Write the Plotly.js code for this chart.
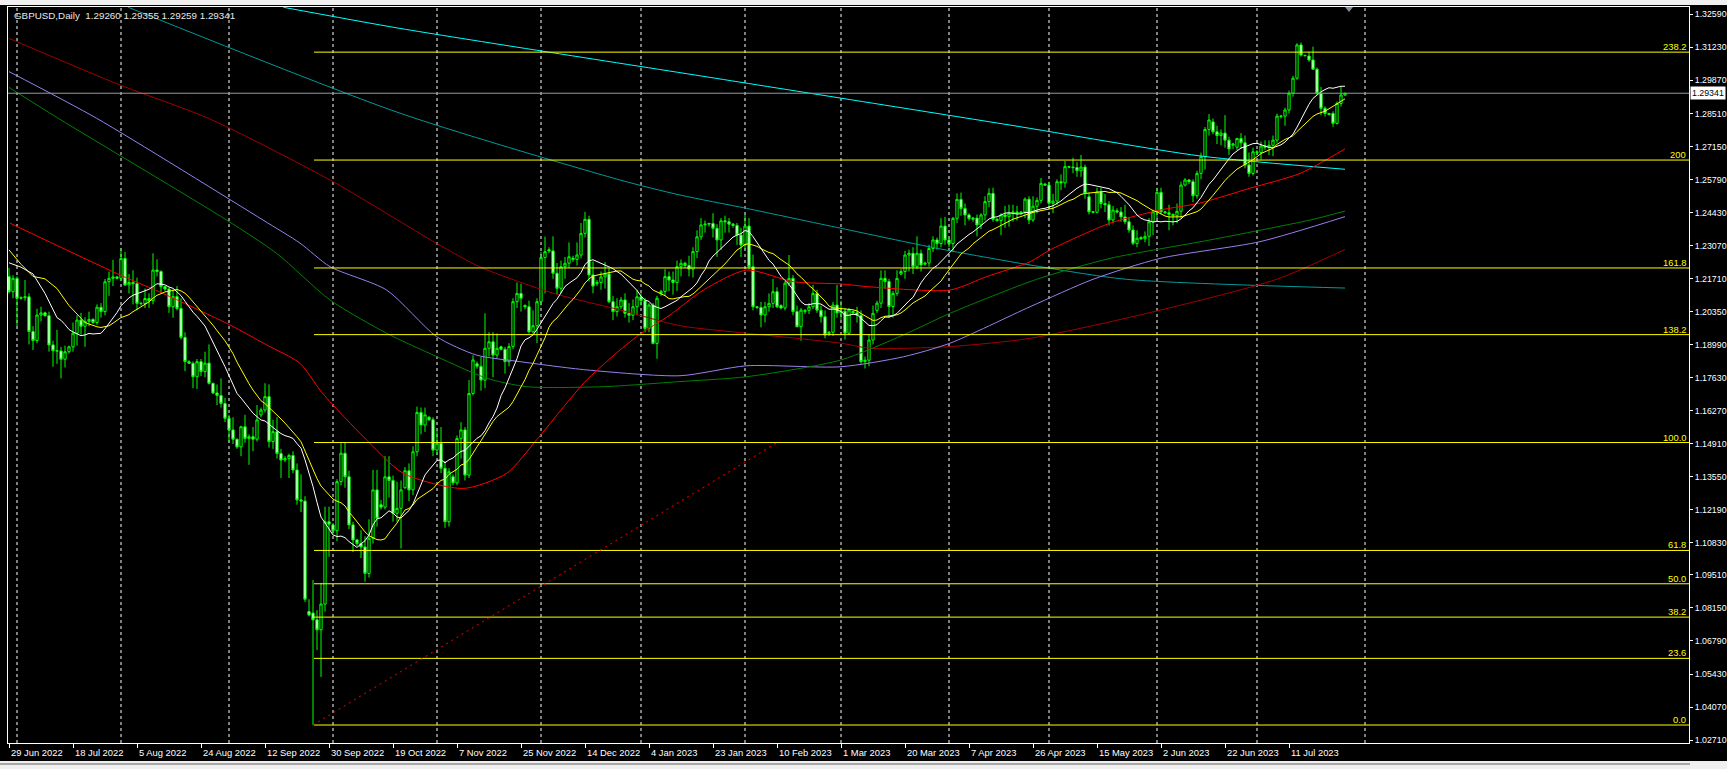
<!DOCTYPE html>
<html><head><meta charset="utf-8">
<script src="https://cdn.plot.ly/plotly-3.0.1.min.js"></script>
<style>html,body{margin:0;padding:0;background:#000;overflow:hidden}#chart{width:1727px;height:769px}</style>
</head><body><div id="chart"></div>
<script>
// ---------------- DATA (GBPUSD Daily, bar index 0 = 29 Jun 2022) ----------------
const openP = [
1.2180,1.2117,1.2172,1.2090,1.2092,1.2096,1.1953,1.1916,1.2021,1.2030,
1.2018,1.1898,1.1874,1.1873,1.1839,1.1870,1.1890,1.1946,1.2000,1.1975,
1.1995,1.2003,1.1990,1.2053,1.2035,1.2158,1.2172,1.2178,1.2172,1.2254,
1.2145,1.2155,1.2150,1.2069,1.2068,1.2089,1.2080,1.2206,1.2200,1.2138,
1.2128,1.2055,1.2097,1.2048,1.1929,1.1829,1.1822,1.1767,1.1829,1.1788,
1.1823,1.1740,1.1700,1.1690,1.1657,1.1596,1.1548,1.1510,1.1478,1.1561,
1.1513,1.1520,1.1510,1.1610,1.1630,1.1685,1.1500,1.1541,1.1451,1.1424,
1.1430,1.1443,1.1383,1.1260,1.1255,1.0800,1.0794,1.0766,1.0725,1.0831,
1.1170,1.1157,1.1133,1.1335,1.1452,1.1355,1.1157,1.1095,1.1080,1.1066,
1.0957,1.1102,1.1301,1.1240,1.1230,1.1355,1.1340,1.1205,1.1225,1.1310,
1.1380,1.1301,1.1458,1.1620,1.1568,1.1600,1.1590,1.1465,1.1493,1.1390,
1.1170,1.1355,1.1330,1.1513,1.1548,1.1362,1.1698,1.1820,1.1810,1.1753,
1.1884,1.1911,1.1856,1.1890,1.1880,1.1829,1.1891,1.2076,1.2110,1.2060,
1.2055,1.1952,1.1977,1.2076,1.2258,1.2290,1.2285,1.2193,1.2131,1.2220,
1.2234,1.2255,1.2250,1.2268,1.2357,1.2415,1.2186,1.2150,1.2155,1.2178,
1.2190,1.2076,1.2035,1.2055,1.2083,1.2028,1.2020,1.2055,1.2096,1.2080,
1.1966,1.2062,1.1904,1.2110,1.2118,1.2179,1.2165,1.2155,1.2220,1.2234,
1.2225,1.2210,1.2282,1.2343,1.2392,1.2395,1.2398,1.2378,1.2330,1.2409,
1.2405,1.2395,1.2390,1.2350,1.2309,1.2387,1.2220,1.2055,1.2052,1.2021,
1.2055,1.2069,1.2117,1.2060,1.2050,1.2152,1.2172,1.2035,1.1973,1.2035,
1.2040,1.2055,1.2110,1.2041,1.2014,1.1945,1.1950,1.2062,1.2030,1.2037,
1.1946,1.2035,1.2030,1.2020,1.1829,1.1835,1.1918,1.2040,1.2070,1.2172,
1.2159,1.2056,1.2110,1.2190,1.2200,1.2268,1.2275,1.2220,1.2275,1.2230,
1.2235,1.2295,1.2330,1.2315,1.2387,1.2330,1.2315,1.2419,1.2497,1.2460,
1.2433,1.2415,1.2420,1.2392,1.2433,1.2488,1.2522,1.2415,1.2410,1.2433,
1.2426,1.2440,1.2445,1.2440,1.2445,1.2498,1.2412,1.2469,1.2493,1.2560,
1.2556,1.2481,1.2490,1.2570,1.2565,1.2632,1.2630,1.2628,1.2615,1.2630,
1.2508,1.2446,1.2444,1.2528,1.2480,1.2475,1.2412,1.2450,1.2445,1.2425,
1.2405,1.2371,1.2316,1.2340,1.2335,1.2345,1.2405,1.2446,1.2526,1.2446,
1.2442,1.2435,1.2430,1.2448,1.2556,1.2577,1.2570,1.2512,1.2604,1.2673,
1.2785,1.2816,1.2775,1.2760,1.2770,1.2741,1.2720,1.2712,1.2748,1.2730,
1.2639,1.2604,1.2693,1.2690,1.2717,1.2712,1.2720,1.2741,1.2838,1.2840,
1.2865,1.2934,1.2996,1.3133,1.3090,1.3087,1.3071,1.3033,1.2934,1.2872,
1.2851,1.2851,1.2810,1.2892,1.29260];
const highP = [
1.2215,1.2185,1.2180,1.2098,1.2165,1.2110,1.1975,1.2047,1.2055,1.2035,
1.2035,1.1915,1.1960,1.1890,1.1895,1.1895,1.1990,1.2020,1.2030,1.2012,
1.2035,1.2008,1.2065,1.2070,1.2170,1.2200,1.2248,1.2182,1.2296,1.2280,
1.2190,1.2205,1.2175,1.2075,1.2130,1.2110,1.2275,1.2250,1.2205,1.2140,
1.2135,1.2125,1.2140,1.2090,1.1950,1.1835,1.1830,1.1840,1.1840,1.1870,
1.1900,1.1742,1.1735,1.1760,1.1680,1.1610,1.1600,1.1512,1.1565,1.1610,
1.1530,1.1560,1.1650,1.1640,1.1740,1.1735,1.1590,1.1600,1.1470,1.1440,
1.1450,1.1460,1.1410,1.1365,1.1275,1.0851,1.0930,1.0806,1.0918,1.1232,
1.1232,1.1165,1.1345,1.1493,1.1495,1.1380,1.1170,1.1100,1.1135,1.1110,
1.1180,1.1383,1.1383,1.1260,1.1440,1.1440,1.1360,1.1335,1.1340,1.1395,
1.1410,1.1480,1.1644,1.1640,1.1640,1.1605,1.1600,1.1545,1.1560,1.1420,
1.1390,1.1365,1.1525,1.1580,1.1560,1.1753,1.1855,1.1830,1.1850,1.2028,
1.1950,1.1950,1.1945,1.1895,1.1890,1.1905,1.2090,1.2155,1.2150,1.2065,
1.2080,1.2040,1.2090,1.2280,1.2344,1.2300,1.2345,1.2235,1.2245,1.2260,
1.2320,1.2265,1.2320,1.2400,1.2446,1.2430,1.2242,1.2165,1.2200,1.2240,
1.2215,1.2100,1.2090,1.2095,1.2110,1.2070,1.2085,1.2125,1.2110,1.2090,
1.2070,1.2070,1.2100,1.2125,1.2210,1.2200,1.2200,1.2245,1.2250,1.2240,
1.2265,1.2300,1.2370,1.2420,1.2410,1.2400,1.2440,1.2395,1.2420,1.2430,
1.2420,1.2400,1.2400,1.2380,1.2435,1.2420,1.2270,1.2058,1.2075,1.2075,
1.2110,1.2170,1.2135,1.2065,1.2160,1.2268,1.2185,1.2060,1.2050,1.2045,
1.2070,1.2145,1.2125,1.2060,1.2040,1.1955,1.2075,1.2145,1.2080,1.2050,
1.2050,1.2040,1.2055,1.2040,1.1850,1.1940,1.2060,1.2080,1.2205,1.2205,
1.2170,1.2120,1.2205,1.2210,1.2285,1.2290,1.2300,1.2345,1.2290,1.2240,
1.2310,1.2345,1.2340,1.2420,1.2425,1.2340,1.2425,1.2522,1.2525,1.2480,
1.2440,1.2425,1.2435,1.2440,1.2510,1.2543,1.2545,1.2420,1.2440,1.2470,
1.2475,1.2475,1.2470,1.2448,1.2505,1.2510,1.2510,1.2505,1.2585,1.2565,
1.2570,1.2520,1.2580,1.2600,1.2655,1.2635,1.2668,1.2650,1.2680,1.2640,
1.2525,1.2450,1.2545,1.2545,1.2520,1.2490,1.2470,1.2460,1.2465,1.2475,
1.2425,1.2390,1.2370,1.2345,1.2365,1.2420,1.2455,1.2545,1.2545,1.2450,
1.2475,1.2440,1.2480,1.2570,1.2585,1.2580,1.2580,1.2615,1.2690,1.2795,
1.2848,1.2830,1.2800,1.2785,1.2844,1.2755,1.2730,1.2750,1.2770,1.2760,
1.2690,1.2710,1.2700,1.2735,1.2740,1.2740,1.2760,1.2850,1.2845,1.2875,
1.2945,1.3005,1.3140,1.3143,1.3093,1.3105,1.3126,1.3040,1.2960,1.2880,
1.2853,1.2860,1.2900,1.2961,1.29355];
const lowP = [
1.2110,1.2090,1.1975,1.2085,1.2080,1.1900,1.1877,1.1905,1.1995,1.2015,
1.1870,1.1808,1.1820,1.1760,1.1805,1.1862,1.1870,1.1895,1.1940,1.1890,
1.1975,1.1985,1.1980,1.2010,1.2020,1.2100,1.2140,1.2168,1.2160,1.2140,
1.2110,1.2065,1.2040,1.2060,1.2050,1.2050,1.2065,1.2180,1.2110,1.2120,
1.2030,1.2010,1.2040,1.1920,1.1790,1.1820,1.1720,1.1717,1.1770,1.1765,
1.1735,1.1695,1.1650,1.1640,1.1580,1.1500,1.1490,1.1470,1.1440,1.1495,
1.1404,1.1460,1.1500,1.1600,1.1620,1.1475,1.1470,1.1430,1.1350,1.1415,
1.1350,1.1370,1.1240,1.1210,1.0840,1.0780,1.0333,1.0642,1.0531,1.0800,
1.1026,1.1120,1.1090,1.1320,1.1310,1.1140,1.1045,1.1070,1.1020,1.0923,
1.0940,1.1080,1.1150,1.1220,1.1220,1.1270,1.1170,1.1170,1.1060,1.1305,
1.1255,1.1280,1.1440,1.1530,1.1540,1.1585,1.1440,1.1445,1.1370,1.1145,
1.1150,1.1320,1.1320,1.1430,1.1340,1.1350,1.1690,1.1800,1.1710,1.1720,
1.1850,1.1765,1.1840,1.1875,1.1780,1.1810,1.1880,1.2050,1.2035,1.2045,
1.1945,1.1945,1.1905,1.2060,1.2110,1.2275,1.2170,1.2105,1.2110,1.2170,
1.2215,1.2240,1.2225,1.2255,1.2340,1.2160,1.2110,1.2140,1.2125,1.2130,
1.2070,1.2000,1.2015,1.2045,1.2010,1.1990,1.2000,1.2020,1.2060,1.1950,
1.1950,1.1900,1.1841,1.2100,1.2100,1.2120,1.2105,1.2120,1.2180,1.2215,
1.2180,1.2175,1.2255,1.2330,1.2360,1.2385,1.2340,1.2260,1.2290,1.2360,
1.2360,1.2380,1.2310,1.2260,1.2290,1.2210,1.2040,1.2045,1.1970,1.1990,
1.2035,1.2050,1.2050,1.2045,1.2040,1.2140,1.2020,1.1970,1.1915,1.2025,
1.2025,1.2045,1.2030,1.1990,1.1925,1.1935,1.1935,1.2010,1.2000,1.1920,
1.1940,1.2025,1.1990,1.1820,1.1801,1.1810,1.1900,1.2030,1.2050,1.2130,
1.2010,1.2010,1.2100,1.2185,1.2170,1.2200,1.2190,1.2210,1.2200,1.2225,
1.2220,1.2280,1.2290,1.2300,1.2310,1.2300,1.2280,1.2400,1.2430,1.2390,
1.2410,1.2405,1.2345,1.2375,1.2410,1.2465,1.2405,1.2405,1.2350,1.2380,
1.2385,1.2405,1.2410,1.2432,1.2420,1.2395,1.2405,1.2440,1.2480,1.2552,
1.2460,1.2440,1.2475,1.2535,1.2545,1.2625,1.2605,1.2590,1.2590,1.2500,
1.2435,1.2440,1.2440,1.2460,1.2445,1.2390,1.2400,1.2440,1.2405,1.2395,
1.2360,1.2308,1.2300,1.2330,1.2320,1.2305,1.2350,1.2420,1.2435,1.2438,
1.2370,1.2390,1.2400,1.2420,1.2550,1.2560,1.2485,1.2500,1.2580,1.2620,
1.2760,1.2765,1.2725,1.2720,1.2710,1.2680,1.2705,1.2700,1.2705,1.2625,
1.2590,1.2595,1.2680,1.2660,1.2700,1.2680,1.2675,1.2730,1.2830,1.2800,
1.2850,1.2920,1.2989,1.3085,1.3085,1.3064,1.3030,1.2927,1.2844,1.2838,
1.2844,1.2796,1.2805,1.2879,1.29259];
const closeP = [
1.2117,1.2172,1.2090,1.2092,1.2096,1.1953,1.1916,1.2021,1.2030,1.2018,
1.1898,1.1874,1.1873,1.1839,1.1870,1.1890,1.1946,1.2000,1.1975,1.1995,
1.2003,1.1990,1.2053,1.2035,1.2158,1.2172,1.2178,1.2172,1.2254,1.2145,
1.2155,1.2150,1.2069,1.2068,1.2089,1.2080,1.2206,1.2200,1.2138,1.2128,
1.2055,1.2097,1.2048,1.1929,1.1829,1.1822,1.1767,1.1829,1.1788,1.1823,
1.1740,1.1700,1.1690,1.1657,1.1596,1.1548,1.1510,1.1478,1.1561,1.1513,
1.1520,1.1510,1.1589,1.1630,1.1685,1.1500,1.1541,1.1451,1.1424,1.1430,
1.1443,1.1383,1.1260,1.1255,1.0851,1.0786,1.0766,1.0725,1.0831,1.1170,
1.1160,1.1133,1.1335,1.1452,1.1355,1.1157,1.1095,1.1080,1.1066,1.0957,
1.1102,1.1301,1.1184,1.1230,1.1355,1.1340,1.1205,1.1225,1.1301,1.1380,
1.1301,1.1458,1.1620,1.1568,1.1610,1.1590,1.1465,1.1493,1.1390,1.1170,
1.1376,1.1330,1.1513,1.1548,1.1362,1.1698,1.1836,1.1810,1.1753,1.1884,
1.1911,1.1856,1.1884,1.1880,1.1829,1.1891,1.2076,1.2110,1.2090,1.2055,
1.1952,1.1977,1.2076,1.2258,1.2282,1.2285,1.2193,1.2131,1.2220,1.2234,
1.2261,1.2250,1.2268,1.2357,1.2415,1.2186,1.2140,1.2155,1.2178,1.2190,
1.2076,1.2035,1.2055,1.2083,1.2028,1.2020,1.2055,1.2096,1.2080,1.1966,
1.2062,1.1904,1.2090,1.2118,1.2179,1.2165,1.2155,1.2220,1.2234,1.2225,
1.2210,1.2282,1.2343,1.2392,1.2395,1.2398,1.2378,1.2330,1.2409,1.2405,
1.2395,1.2390,1.2350,1.2309,1.2387,1.2220,1.2055,1.2052,1.2021,1.2055,
1.2069,1.2117,1.2055,1.2050,1.2152,1.2172,1.2035,1.1973,1.2041,1.2040,
1.2055,1.2110,1.2041,1.2014,1.1939,1.1950,1.2062,1.2030,1.2037,1.1946,
1.2042,1.2030,1.2020,1.1829,1.1835,1.1918,1.2028,1.2070,1.2172,1.2159,
1.2056,1.2110,1.2172,1.2200,1.2268,1.2275,1.2220,1.2275,1.2227,1.2235,
1.2295,1.2330,1.2315,1.2387,1.2330,1.2315,1.2419,1.2497,1.2460,1.2433,
1.2418,1.2420,1.2392,1.2433,1.2488,1.2522,1.2415,1.2410,1.2433,1.2426,
1.2440,1.2445,1.2440,1.2445,1.2498,1.2412,1.2469,1.2493,1.2563,1.2556,
1.2481,1.2490,1.2570,1.2565,1.2632,1.2630,1.2628,1.2615,1.2630,1.2522,
1.2446,1.2444,1.2528,1.2480,1.2475,1.2412,1.2453,1.2445,1.2425,1.2405,
1.2371,1.2316,1.2337,1.2335,1.2345,1.2405,1.2446,1.2526,1.2446,1.2442,
1.2435,1.2430,1.2448,1.2556,1.2577,1.2570,1.2512,1.2604,1.2673,1.2785,
1.2824,1.2775,1.2760,1.2770,1.2741,1.2705,1.2725,1.2748,1.2730,1.2639,
1.2604,1.2693,1.2690,1.2717,1.2712,1.2720,1.2741,1.2840,1.2840,1.2865,
1.2934,1.2996,1.3133,1.3091,1.3089,1.3071,1.3033,1.2934,1.2872,1.2851,
1.2846,1.2810,1.2892,1.2927,1.29341];

// bar index of each date label on the time axis, and the label text
const xLabelIdx = [0,16,32,48,64,80,96,112,128,144,160,176,192,208,224,240,256,272,288,304,320];
const xLabelText = ['29 Jun 2022','18 Jul 2022','5 Aug 2022','24 Aug 2022','12 Sep 2022','30 Sep 2022',
 '19 Oct 2022','7 Nov 2022','25 Nov 2022','14 Dec 2022','4 Jan 2023','23 Jan 2023','10 Feb 2023',
 '1 Mar 2023','20 Mar 2023','7 Apr 2023','26 Apr 2023','15 May 2023','2 Jun 2023','22 Jun 2023','11 Jul 2023'];
// first bar of each month (vertical grid)
const monthStartIdx = [2,28,55,81,107,133,158,184,208,235,260,287,312,339];

// price scale ticks
const yTickVals = [1.32590,1.31230,1.29870,1.28510,1.27150,1.25790,1.24430,1.23070,1.21710,1.20350,1.18990,
 1.17630,1.16270,1.14910,1.13550,1.12190,1.10830,1.09510,1.08150,1.06790,1.05430,1.04070,1.02710];

// Fibonacci retracement object
const fibLevels = [0,23.6,38.2,50,61.8,100,138.2,161.8,200,238.2];
const fibText = ['0.0','23.6','38.2','50.0','61.8','100.0','138.2','161.8','200','238.2'];
const fibAnchorIdx = [76,192];
const fibAnchorPrice = [1.0333,1.1496];

// fast moving averages: read values for the first bars (before a full window exists)
const whiteHeadIdx = [0,3,6,9,12];
const whiteHeadVal = [1.2236,1.2218,1.2190,1.2110,1.2010];
const yellowHeadIdx = [0,3,6,9,12,15,19];
const yellowHeadVal = [1.2289,1.2230,1.2180,1.2170,1.2130,1.2060,1.1990];
const whitePeriod = 14, yellowPeriod = 21;

// slow moving averages (bar index, value)
const redIdx = [0.25,27.75,39.4,55.25,64.4,72.75,77.75,80.25,88.6,98.6,113.6,124.4,131.9,144.4,156.9,165.25,173.6,184.4,196.1,208,215.25,235.25,244.4,255.25,260.25,275.25,287.75,297.75,310.25,322.75,334];
const redVal = [1.2399,1.2186,1.2103,1.1980,1.1898,1.1822,1.1712,1.1664,1.1520,1.1369,1.1307,1.1369,1.1507,1.1753,1.1932,1.2021,1.2124,1.2206,1.2158,1.2149,1.2137,1.2124,1.2179,1.2240,1.2289,1.2399,1.2453,1.2482,1.2543,1.2604,1.2705];
const darkRedIdx = [0,27.75,49.8,80.25,106.9,117.75,136,152.75,167.75,184.4,208,215.25,235.25,255.25,285,316.9,334];
const darkRedVal = [1.3160,1.2968,1.2831,1.2577,1.2316,1.2219,1.2111,1.2042,1.1977,1.1946,1.1905,1.1884,1.1891,1.1925,1.2030,1.2168,1.2291];
const greenIdx = [0,12.3,54.4,66.9,80.25,94.4,106.9,119.4,129.4,148.6,167.75,184.4,208,223.6,235.25,256.9,275.25,300.25,325.25,334];
const greenVal = [1.2958,1.2831,1.2412,1.2275,1.2083,1.1946,1.1850,1.1761,1.1726,1.1726,1.1747,1.1767,1.1836,1.1939,1.2028,1.2168,1.2254,1.2330,1.2412,1.2449];
const purpleIdx = [0,21.9,63.5,72.75,80.25,94.4,106.9,116.9,127.75,144.4,167.75,184.4,208,223.6,235.25,255.25,271,287.75,312.75,334];
const purpleVal = [1.3023,1.2831,1.2412,1.2317,1.2220,1.2124,1.1932,1.1856,1.1829,1.1795,1.1771,1.1812,1.1808,1.1849,1.1905,1.2055,1.2168,1.2254,1.2323,1.2426];
const tealIdx = [29.8,97.75,152.75,167.75,184.4,208,231.9,255.25,279.4,334];
const tealVal = [1.3288,1.2852,1.2577,1.2515,1.2460,1.2378,1.2296,1.2227,1.2168,1.2132];
const cyanIdx = [68.6,97.75,175,250.25,297.75,334];
const cyanVal = [1.3288,1.3201,1.3000,1.2803,1.2676,1.2621];

const lastBid = 1.29341;
const titleText = 'GBPUSD,Daily  1.29260 1.29355 1.29259 1.29341';

// ---------------- BUILD ----------------
const n = closeP.length;
const barIdx = closeP.map((_, i) => i);
function smaLine(period, headIdx, headVal) {
  const xs = headIdx.slice(), ys = headVal.slice();
  for (let i = period - 1; i < n; i++) {
    let s = 0; for (let k = i - period + 1; k <= i; k++) s += closeP[k];
    xs.push(i); ys.push(s / period);
  }
  return [xs, ys];
}
const [wx, wy] = smaLine(whitePeriod, whiteHeadIdx, whiteHeadVal);
const [yx, yy] = smaLine(yellowPeriod, yellowHeadIdx, yellowHeadVal);

const FONT = 'Liberation Sans, Arial, sans-serif';
function line(x, y, color, smooth) {
  const ln = {color:color, width:1};
  if (smooth) { ln.shape = 'spline'; ln.smoothing = 0.7; }
  return {type:'scatter', mode:'lines', x:x, y:y, line:ln, hoverinfo:'skip', showlegend:false};
}
const traces = [
  {type:'candlestick', x:barIdx, open:openP, high:highP, low:lowP, close:closeP,
   increasing:{line:{color:'#00ff00', width:1}, fillcolor:'#000000'},
   decreasing:{line:{color:'#00ff00', width:1}, fillcolor:'#ffffff'},
   whiskerwidth:0, hoverinfo:'skip', showlegend:false},
  line(cyanIdx, cyanVal, '#00ffff', true),
  line(tealIdx, tealVal, '#009a9a', true),
  line(darkRedIdx, darkRedVal, '#a00000', true),
  line(purpleIdx, purpleVal, '#9a7ff0', true),
  line(greenIdx, greenVal, '#008000', true),
  line(redIdx, redVal, '#ff0000', true),
  line(yx, yy, '#ffff00', false),
  line(wx, wy, '#ffffff', false)
];

// pixel -> paper helpers for window chrome
const PL = 8, PW = 1681, PT = 7, PH = 736;
const px = v => (v - PL) / PW, py = v => (PT + PH - v) / PH;

const fibPrice = fibLevels.map(l => fibAnchorPrice[0] + l / 100 * (fibAnchorPrice[1] - fibAnchorPrice[0]));
const shapes = [];
monthStartIdx.forEach(m => shapes.push({type:'line', xref:'x', yref:'paper', x0:m, x1:m, y0:0, y1:1,
  line:{color:'#ffffff', width:1, dash:'3px,3px'}, layer:'below'}));
fibPrice.forEach(p => shapes.push({type:'line', xref:'x', yref:'y', x0:fibAnchorIdx[0] + 0.25, x1:420, y0:p, y1:p,
  line:{color:'#ffff00', width:1}, layer:'above'}));
shapes.push({type:'line', xref:'x', yref:'y', x0:fibAnchorIdx[0], x1:fibAnchorIdx[1], y0:fibAnchorPrice[0], y1:fibAnchorPrice[1],
  line:{color:'#ff0000', width:1, dash:'2px,4px'}, layer:'above'});
shapes.push({type:'line', xref:'paper', yref:'y', x0:0, x1:1, y0:lastBid, y1:lastBid,
  line:{color:'#8f9aa5', width:1}, layer:'above'});
// window chrome (outside the plot)
shapes.push({type:'rect', xref:'paper', yref:'paper', x0:px(-5), x1:px(1735), y0:py(761), y1:py(772),
  fillcolor:'#f0f0f0', line:{width:0}});
shapes.push({type:'line', xref:'paper', yref:'paper', x0:px(0), x1:px(1690), y0:py(764), y1:py(764),
  line:{color:'#606060', width:1}});
shapes.push({type:'rect', xref:'paper', yref:'paper', x0:px(-5), x1:px(1735), y0:py(-3), y1:py(5),
  fillcolor:'#f0f0f0', line:{width:0}});
// chart-shift marker
shapes.push({type:'path', xref:'paper', yref:'paper',
  path:'M ' + px(1345) + ',' + py(7) + ' L ' + px(1353) + ',' + py(7) + ' L ' + px(1349) + ',' + py(12) + ' Z',
  fillcolor:'#8090a0', line:{width:0}});

const annotations = [];
xLabelIdx.forEach((ix, k) => annotations.push({x:ix, xref:'x', y:py(753), yref:'paper', text:xLabelText[k],
  showarrow:false, xanchor:'left', yanchor:'middle', font:{family:FONT, size:9.4, color:'#ffffff'}}));
fibPrice.forEach((p, k) => annotations.push({x:1, xref:'paper', y:p, yref:'y', text:fibText[k], showarrow:false,
  xanchor:'right', yanchor:'bottom', xshift:-1, yshift:-2, font:{family:FONT, size:9.4, color:'#ffff00'}}));
annotations.push({x:px(12), xref:'paper', y:py(16), yref:'paper', text:titleText, showarrow:false,
  xanchor:'left', yanchor:'middle', font:{family:FONT, size:9.8, color:'#e8e8e8'}});
annotations.push({x:1, xref:'paper', y:lastBid, yref:'y', text:lastBid.toFixed(5), showarrow:false,
  xanchor:'left', yanchor:'middle', xshift:1, bgcolor:'#ffffff', borderpad:1, font:{family:FONT, size:8.8, color:'#000000'}});

const layout = {
  width:1727, height:769, paper_bgcolor:'#000000', plot_bgcolor:'#000000',
  margin:{l:PL, r:1727 - PL - PW, t:PT, b:769 - PT - PH}, showlegend:false, boxgap:0.25, boxgroupgap:0.25,
  xaxis:{range:[-0.25,420], showgrid:false, zeroline:false, showline:true, mirror:true, linecolor:'#ffffff', linewidth:1,
    tickvals:xLabelIdx, ticks:'outside', ticklen:4, tickcolor:'#ffffff', showticklabels:false,
    rangeslider:{visible:false}, fixedrange:true},
  yaxis:{range:[1.02590,1.32891], side:'right', showgrid:false, zeroline:false, showline:true, mirror:true,
    linecolor:'#ffffff', linewidth:1, tickvals:yTickVals, ticktext:yTickVals.map(v => v.toFixed(5)),
    ticks:'outside', ticklen:3, tickcolor:'#ffffff', tickfont:{family:FONT, size:8.8, color:'#ffffff'}, fixedrange:true},
  shapes:shapes, annotations:annotations
};
Plotly.newPlot('chart', traces, layout, {staticPlot:true, displayModeBar:false});
</script></body></html>
